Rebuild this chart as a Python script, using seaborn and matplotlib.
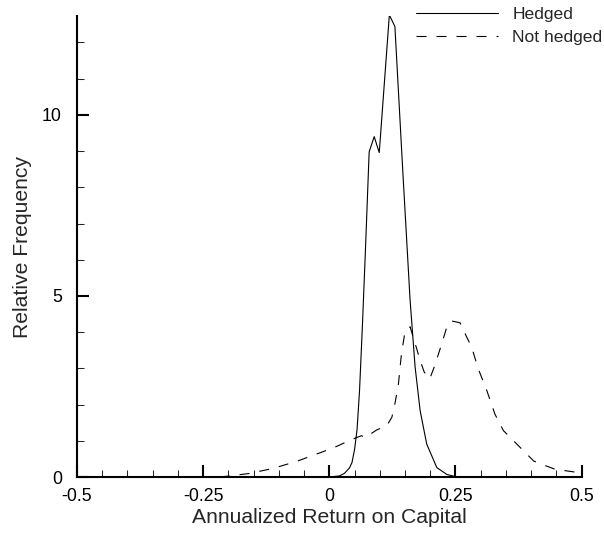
import numpy as np
import pandas as pd
import matplotlib
matplotlib.use('Agg')
import matplotlib.pyplot as plt
from matplotlib.ticker import MultipleLocator
import seaborn as sns

# values
hedged_x = [-0.5, -0.2, 0.0, 0.02, 0.03, 0.04, 0.045, 0.05, 0.055, 0.06, 0.066, 0.072,
            0.079, 0.089, 0.099, 0.119, 0.130, 0.145, 0.160, 0.170, 0.180, 0.193,
            0.213, 0.233, 0.25, 0.5]
hedged_y = [0, 0, 0, 0.03, 0.1, 0.25, 0.4, 0.75, 1.3, 2.4, 4.3, 6.4,
            8.98, 9.40, 8.96, 12.76, 12.44, 8.6, 4.9, 3.04, 1.83, 0.91,
            0.26, 0.07, 0.01, 0]

nothedged_x = [-0.217, -0.197, -0.157, -0.111, -0.065, -0.022, 0.009, 0.031, 0.054,
               0.064, 0.071, 0.094, 0.114, 0.124, 0.130, 0.137, 0.143, 0.150, 0.160,
               0.170, 0.180, 0.188, 0.199, 0.209, 0.223, 0.233, 0.242, 0.259, 0.272,
               0.282, 0.295, 0.312, 0.328, 0.345, 0.365, 0.385, 0.405, 0.425, 0.448,
               0.470, 0.494]
nothedged_y = [0, 0.03, 0.10, 0.24, 0.43, 0.65, 0.81, 0.95, 1.09,
               1.14, 1.09, 1.30, 1.42, 1.65, 2.02, 2.57, 3.41, 4.01, 4.15,
               3.69, 3.22, 2.90, 2.71, 3.08, 3.69, 4.15, 4.31, 4.26, 3.87,
               3.59, 2.99, 2.39, 1.74, 1.28, 1.00, 0.72, 0.44, 0.33, 0.21,
               0.17, 0.12]

df_h = pd.DataFrame({'ret': hedged_x, 'freq': hedged_y})
df_n = pd.DataFrame({'ret': nothedged_x, 'freq': nothedged_y})

sns.set_style('ticks')
plt.rcParams['font.family'] = ['Liberation Sans', 'DejaVu Sans']

fig = plt.figure(figsize=(6.04, 5.35), dpi=100)
ax = fig.add_axes([0.1272, 0.1084, 0.8359, 0.8609])

sns.lineplot(data=df_h, x='ret', y='freq', color='black', lw=0.8, label='Hedged',
             sort=False, ax=ax)
sns.lineplot(data=df_n, x='ret', y='freq', color='black', lw=0.8, label='Not hedged',
             linestyle=(0, (9, 9)), sort=False, ax=ax)

ax.set_xlim(-0.5, 0.5)
ax.set_ylim(0, 12.72)
ax.set_xticks([-0.5, -0.25, 0, 0.25, 0.5])
ax.set_xticklabels(['-0.5', '-0.25', '0', '0.25', '0.5'])
ax.set_yticks([0, 5, 10])
ax.xaxis.set_minor_locator(MultipleLocator(0.05))
ax.yaxis.set_minor_locator(MultipleLocator(1))
ax.tick_params(which='major', direction='in', length=8.5, width=1.5, labelsize=12.8,
               colors='black', pad=8)
ax.tick_params(which='minor', direction='in', length=5, width=0.75)
ax.tick_params(axis='y', pad=10.8)

for s in ['top', 'right']:
    ax.spines[s].set_visible(False)
for s in ['left', 'bottom']:
    ax.spines[s].set_linewidth(1.5)
    ax.spines[s].set_color('black')

ax.set_xlabel('Annualized Return on Capital', fontsize=15.2, labelpad=2)
ax.set_ylabel('Relative Frequency', fontsize=15.2, labelpad=7)

ax.legend(loc='upper right', bbox_to_anchor=(1.0, 0.99), bbox_transform=fig.transFigure,
          frameon=False, fontsize=12.6, handlelength=4.7, handletextpad=0.8,
          labelspacing=0.45, borderaxespad=0.05, borderpad=0.05)

fig.savefig('out.png', dpi=100)
